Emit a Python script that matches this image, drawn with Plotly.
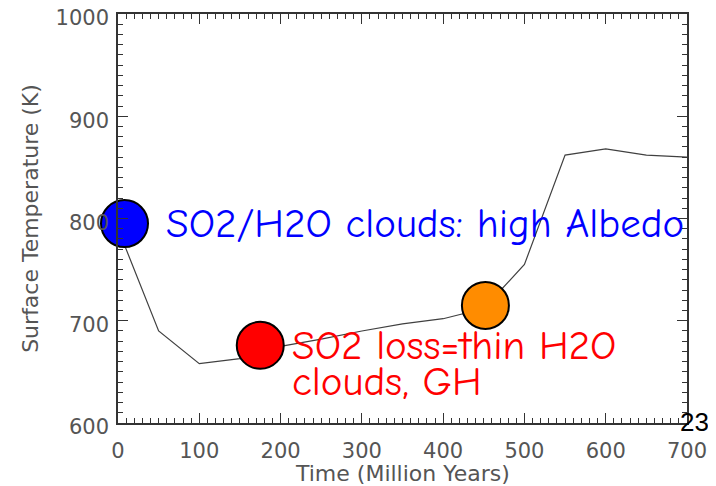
import plotly.graph_objects as go

time_myr = [0, 50, 100, 150, 200, 250, 300, 350, 400, 450, 500, 550, 600, 650, 700]
surface_temp_k = [790, 690, 658, 663, 675, 682, 690, 697, 702, 712, 755, 862, 868, 862, 860]

marker_x = [8, 175, 452]
marker_y = [795, 676, 715]
marker_colors = ["#0000ff", "#ff0000", "#ff8c00"]

label_blue = "SO2/H2O clouds: high Albedo"
label_red_1 = "SO2 loss=thin H2O"
label_red_2 = "clouds, GH"
slide_number = "23"
x_title = "Time (Million Years)"
y_title = "Surface Temperature (K)"

W, H = 708, 478
L, R, T, B = 110, 29, 6, 63

fig = go.Figure()
fig.add_trace(go.Scatter(x=time_myr, y=surface_temp_k, mode="lines",
                         line=dict(color="#404040", width=1.2), showlegend=False,
                         hoverinfo="skip"))
fig.add_trace(go.Scatter(x=marker_x, y=marker_y, mode="markers",
                         marker=dict(size=47, color=marker_colors,
                                     line=dict(color="black", width=2)),
                         showlegend=False, cliponaxis=False))

comic = "Comic Sans MS, Comic Neue, DejaVu Sans, sans-serif"
fig.add_annotation(x=57, y=795, xref="x", yref="y", text=label_blue, showarrow=False,
                   xanchor="left", yanchor="middle",
                   font=dict(family=comic, size=41, color="#0000ff"))
fig.add_annotation(x=211, y=676, xref="x", yref="y", text=label_red_1, showarrow=False,
                   xanchor="left", yanchor="middle",
                   font=dict(family=comic, size=41, color="#ff0000"))
fig.add_annotation(x=211, y=641, xref="x", yref="y", text=label_red_2, showarrow=False,
                   xanchor="left", yanchor="middle",
                   font=dict(family=comic, size=41, color="#ff0000"))
fig.add_annotation(x=(687 - L) / (W - L - R), y=(H - B - 414) / (H - T - B),
                   xref="paper", yref="paper", text=slide_number, showarrow=False,
                   xanchor="center", yanchor="middle",
                   font=dict(family="Liberation Sans, Arial", size=26, color="black"))
fig.add_annotation(x=0.5, y=0, xref="paper", yref="paper", yshift=-50,
                   text=x_title, showarrow=False, xanchor="center", yanchor="middle",
                   font=dict(family="DejaVu Sans", size=22, color="#555"))

axis_common = dict(
    showgrid=False, zeroline=False, showline=True, linecolor="#333", linewidth=1.5,
    mirror="allticks", ticks="inside", ticklen=10, tickwidth=1.2, tickcolor="#333",
    tickfont=dict(family="DejaVu Sans", size=21, color="#555"),
    minor=dict(ticks="inside", ticklen=5, tickwidth=1, tickcolor="#333", dtick=10),
    automargin=False, ticklabeloverflow="allow",
)

fig.update_layout(
    width=W, height=H,
    margin=dict(l=L, r=R, t=T, b=B),
    plot_bgcolor="white", paper_bgcolor="white",
    xaxis=dict(range=[0, 700], dtick=100, tick0=0, ticklabelstandoff=8,
               **axis_common),
    yaxis=dict(range=[600, 1000], dtick=100, tick0=600, ticklabelstandoff=3,
               ticklabelshift=4,
               title=dict(text=y_title, standoff=11,
                          font=dict(family="DejaVu Sans", size=22, color="#555")),
               **axis_common),
)

fig.write_html("out.html")
